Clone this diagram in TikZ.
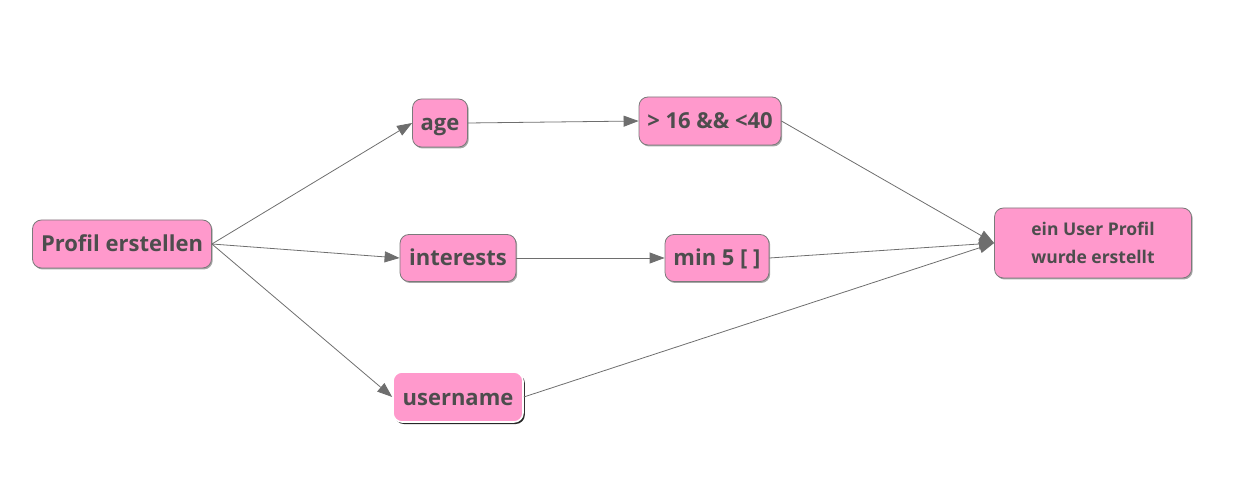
\documentclass[tikz,border=0pt]{standalone}
\usepackage{fontspec}
\setmainfont{Open Sans}
\usetikzlibrary{arrows.meta,shadows}
\definecolor{boxpink}{HTML}{FF99CC}
\definecolor{boxline}{HTML}{7A7A7A}
\definecolor{txt}{HTML}{4D4D4D}
\definecolor{edge}{HTML}{6E6E6E}
\begin{document}
\begin{tikzpicture}[x=1pt,y=-1pt,
  box/.style={draw=boxline, fill=boxpink, rounded corners=9pt, line width=0.8pt,
    text=txt, font=\bfseries\fontsize{22}{26}\selectfont, inner sep=0pt, align=center,
    text height=18pt, text depth=2pt,
    drop shadow={shadow xshift=1.2pt, shadow yshift=-1.5pt, opacity=0.35, fill=black}},
  conn/.style={draw=edge, line width=0.8pt, -{Triangle[length=15pt,width=11pt]}}]
\useasboundingbox (0,0) rectangle (1252,502);
\node[box, minimum width=179pt, minimum height=48pt] (prof) at (122,244) {Profil erstellen};
\node[box, minimum width=55pt, minimum height=48pt] (age) at (440,123) {age};
\node[box, minimum width=142pt, minimum height=48pt] (range) at (710,121) {> 16 \&\& <40};
\node[box, minimum width=116pt, minimum height=47pt] (int) at (458,258) {interests};
\node[box, minimum width=104pt, minimum height=47pt] (min) at (717,258) {min 5 [ ]};
\node[box, draw=white, line width=1.6pt, minimum width=130pt, minimum height=50pt,
  drop shadow={shadow xshift=1.8pt, shadow yshift=-2pt, opacity=0.8, fill=black}] (user) at (458,397) {username};
\node[box, minimum width=197pt, minimum height=70pt, text height=, text depth=,
  font=\bfseries\fontsize{17.5}{28}\selectfont] (done) at (1093,243) {ein User Profil\\wurde erstellt};
\draw[conn] (prof.east) -- (age.west);
\draw[conn] (prof.east) -- (int.west);
\draw[conn] (prof.east) -- (user.west);
\draw[conn] (age.east) -- (range.west);
\draw[conn] (int.east) -- (min.west);
\draw[conn] (range.east) -- (done.west);
\draw[conn] (min.east) -- (done.west);
\draw[conn] (user.east) -- (done.west);
\end{tikzpicture}
\end{document}
